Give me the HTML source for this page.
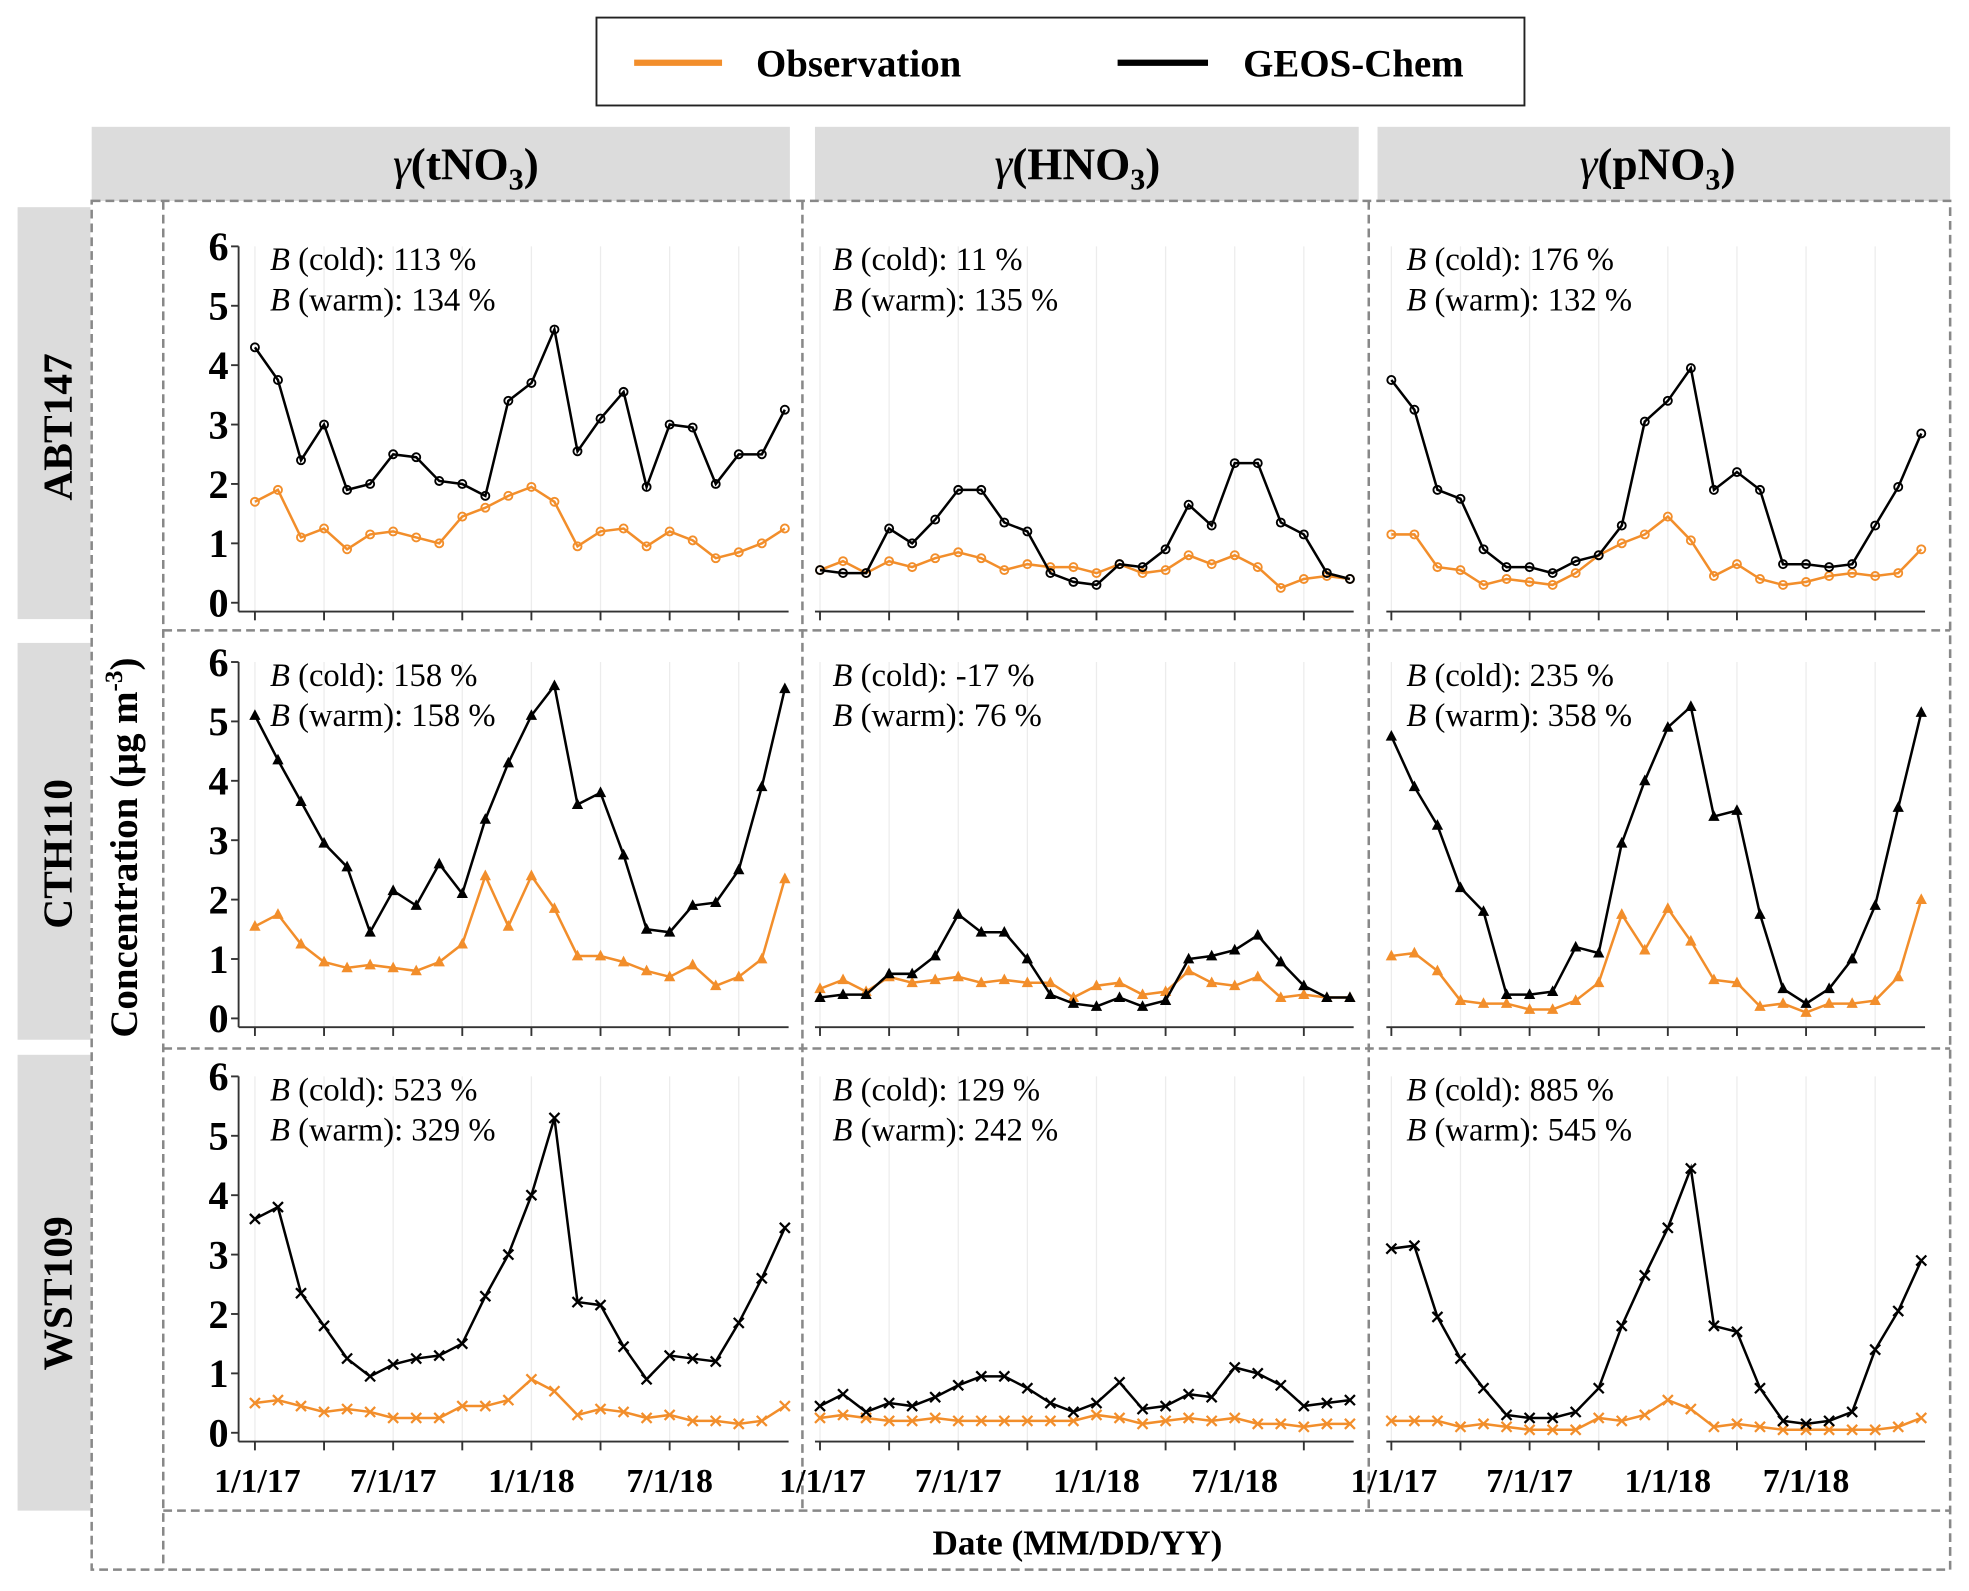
<!DOCTYPE html>
<html><head><meta charset="utf-8">
<style>
html,body{margin:0;padding:0;background:#fff;}
svg{display:block;font-family:"Liberation Serif",serif;}
</style></head>
<body>
<svg id="fig" width="1969" height="1591" viewBox="0 0 1568 1267" xmlns="http://www.w3.org/2000/svg">
<g>
<rect x="475" y="14" width="739" height="70" fill="#fff" stroke="#222" stroke-width="1.5"/>
<line x1="505" y1="50" x2="575" y2="50" stroke="#f28e2b" stroke-width="5"/>
<text x="602" y="61" font-size="31" font-weight="bold">Observation</text>
<line x1="890" y1="50" x2="962" y2="50" stroke="#000" stroke-width="5"/>
<text x="990" y="61" font-size="31" font-weight="bold">GEOS-Chem</text>
</g>
<g>
<rect x="73" y="101" width="556" height="59" fill="#dcdcdc"/>
<rect x="649" y="101" width="433" height="59" fill="#dcdcdc"/>
<rect x="1097" y="101" width="456" height="59" fill="#dcdcdc"/>
<text x="371" y="143" font-size="36" font-weight="bold" text-anchor="middle"><tspan font-style="italic" font-weight="normal">γ</tspan>(tNO<tspan font-size="24" dy="8">3</tspan><tspan dy="-8">)</tspan></text>
<text x="858" y="143" font-size="36" font-weight="bold" text-anchor="middle"><tspan font-style="italic" font-weight="normal">γ</tspan>(HNO<tspan font-size="24" dy="8">3</tspan><tspan dy="-8">)</tspan></text>
<text x="1320" y="143" font-size="36" font-weight="bold" text-anchor="middle"><tspan font-style="italic" font-weight="normal">γ</tspan>(pNO<tspan font-size="24" dy="8">3</tspan><tspan dy="-8">)</tspan></text>
</g>
<g>
<rect x="14" y="165" width="58" height="328" fill="#dcdcdc"/>
<rect x="14" y="512" width="58" height="316" fill="#dcdcdc"/>
<rect x="14" y="840" width="58" height="363" fill="#dcdcdc"/>
<text transform="translate(57,340) rotate(-90)" font-size="33" font-weight="bold" text-anchor="middle">ABT147</text>
<text transform="translate(57,680) rotate(-90)" font-size="33" font-weight="bold" text-anchor="middle">CTH110</text>
<text transform="translate(57,1030) rotate(-90)" font-size="33" font-weight="bold" text-anchor="middle">WST109</text>
</g>
<g fill="none" stroke="#888" stroke-width="2" stroke-dasharray="7,4">
<rect x="73" y="160" width="1480" height="1090"/>
<line x1="130" y1="160" x2="130" y2="1250"/>
<line x1="639" y1="160" x2="639" y2="1203"/>
<line x1="1090" y1="160" x2="1090" y2="1203"/>
<line x1="130" y1="502" x2="1553" y2="502"/>
<line x1="130" y1="835" x2="1553" y2="835"/>
<line x1="130" y1="1203" x2="1553" y2="1203"/>
</g>
<text transform="translate(109,675) rotate(-90)" font-size="31" font-weight="bold" text-anchor="middle">Concentration (μg m<tspan font-size="20" dy="-12">-3</tspan><tspan dy="12">)</tspan></text>
<text x="858" y="1238" font-size="28" font-weight="bold" text-anchor="middle">Date (MM/DD/YY)</text>
<g id="plots"></g>
</svg>
<script>
const months = ["1/1/17","2/1/17","3/1/17","4/1/17","5/1/17","6/1/17","7/1/17","8/1/17","9/1/17","10/1/17","11/1/17","12/1/17","1/1/18","2/1/18","3/1/18","4/1/18","5/1/18","6/1/18","7/1/18","8/1/18","9/1/18","10/1/18","11/1/18","12/1/18"];
const yTicks = [0,1,2,3,4,5,6];
const xTickLabels = ["1/1/17","7/1/17","1/1/18","7/1/18"];
const stations = ["ABT147","CTH110","WST109"];
const species = ["tNO3","HNO3","pNO3"];
const modelABT_t = [4.3,3.75,2.4,3.0,1.9,2.0,2.5,2.45,2.05,2.0,1.8,3.4,3.7,4.6,2.55,3.1,3.55,1.95,3.0,2.95,2.0,2.5,2.5,3.25];
const obsABT_t = [1.7,1.9,1.1,1.25,0.9,1.15,1.2,1.1,1.0,1.45,1.6,1.8,1.95,1.7,0.95,1.2,1.25,0.95,1.2,1.05,0.75,0.85,1.0,1.25];
const modelABT_h = [0.55,0.5,0.5,1.25,1.0,1.4,1.9,1.9,1.35,1.2,0.5,0.35,0.3,0.65,0.6,0.9,1.65,1.3,2.35,2.35,1.35,1.15,0.5,0.4];
const obsABT_h = [0.55,0.7,0.5,0.7,0.6,0.75,0.85,0.75,0.55,0.65,0.6,0.6,0.5,0.65,0.5,0.55,0.8,0.65,0.8,0.6,0.25,0.4,0.45,0.4];
const modelABT_p = [3.75,3.25,1.9,1.75,0.9,0.6,0.6,0.5,0.7,0.8,1.3,3.05,3.4,3.95,1.9,2.2,1.9,0.65,0.65,0.6,0.65,1.3,1.95,2.85];
const obsABT_p = [1.15,1.15,0.6,0.55,0.3,0.4,0.35,0.3,0.5,0.8,1.0,1.15,1.45,1.05,0.45,0.65,0.4,0.3,0.35,0.45,0.5,0.45,0.5,0.9];
const modelCTH_t = [5.1,4.35,3.65,2.95,2.55,1.45,2.15,1.9,2.6,2.1,3.35,4.3,5.1,5.6,3.6,3.8,2.75,1.5,1.45,1.9,1.95,2.5,3.9,5.55];
const obsCTH_t = [1.55,1.75,1.25,0.95,0.85,0.9,0.85,0.8,0.95,1.25,2.4,1.55,2.4,1.85,1.05,1.05,0.95,0.8,0.7,0.9,0.55,0.7,1.0,2.35];
const modelCTH_h = [0.35,0.4,0.4,0.75,0.75,1.05,1.75,1.45,1.45,1.0,0.4,0.25,0.2,0.35,0.2,0.3,1.0,1.05,1.15,1.4,0.95,0.55,0.35,0.35];
const obsCTH_h = [0.5,0.65,0.45,0.7,0.6,0.65,0.7,0.6,0.65,0.6,0.6,0.35,0.55,0.6,0.4,0.45,0.8,0.6,0.55,0.7,0.35,0.4,0.35,0.35];
const modelCTH_p = [4.75,3.9,3.25,2.2,1.8,0.4,0.4,0.45,1.2,1.1,2.95,4.0,4.9,5.25,3.4,3.5,1.75,0.5,0.25,0.5,1.0,1.9,3.55,5.15];
const obsCTH_p = [1.05,1.1,0.8,0.3,0.25,0.25,0.15,0.15,0.3,0.6,1.75,1.15,1.85,1.3,0.65,0.6,0.2,0.25,0.1,0.25,0.25,0.3,0.7,2.0];
const modelWST_t = [3.6,3.8,2.35,1.8,1.25,0.95,1.15,1.25,1.3,1.5,2.3,3.0,4.0,5.3,2.2,2.15,1.45,0.9,1.3,1.25,1.2,1.85,2.6,3.45];
const obsWST_t = [0.5,0.55,0.45,0.35,0.4,0.35,0.25,0.25,0.25,0.45,0.45,0.55,0.9,0.7,0.3,0.4,0.35,0.25,0.3,0.2,0.2,0.15,0.2,0.45];
const modelWST_h = [0.45,0.65,0.35,0.5,0.45,0.6,0.8,0.95,0.95,0.75,0.5,0.35,0.5,0.85,0.4,0.45,0.65,0.6,1.1,1.0,0.8,0.45,0.5,0.55];
const obsWST_h = [0.25,0.3,0.25,0.2,0.2,0.25,0.2,0.2,0.2,0.2,0.2,0.2,0.3,0.25,0.15,0.2,0.25,0.2,0.25,0.15,0.15,0.1,0.15,0.15];
const modelWST_p = [3.1,3.15,1.95,1.25,0.75,0.3,0.25,0.25,0.35,0.75,1.8,2.65,3.45,4.45,1.8,1.7,0.75,0.2,0.15,0.2,0.35,1.4,2.05,2.9];
const obsWST_p = [0.2,0.2,0.2,0.1,0.15,0.1,0.05,0.05,0.05,0.25,0.2,0.3,0.55,0.4,0.1,0.15,0.1,0.05,0.05,0.05,0.05,0.05,0.1,0.25];
const biasCold = [["113","11","176"],["158","-17","235"],["523","129","885"]];
const biasWarm = [["134","135","132"],["158","76","358"],["329","242","545"]];

const modelData = [[modelABT_t,modelABT_h,modelABT_p],[modelCTH_t,modelCTH_h,modelCTH_p],[modelWST_t,modelWST_h,modelWST_p]];
const obsData = [[obsABT_t,obsABT_h,obsABT_p],[obsCTH_t,obsCTH_h,obsCTH_p],[obsWST_t,obsWST_h,obsWST_p]];

const NS="http://www.w3.org/2000/svg";
const root=document.getElementById('plots');
const colX0=[203,653,1108], colW=422;
const rowY0=[480,811,1141], unit=47.3;
const markerType=["circle","triangle","cross"];
function mk(tag,attrs,parent){const e=document.createElementNS(NS,tag);for(const k in attrs)e.setAttribute(k,attrs[k]);parent.appendChild(e);return e;}
function xs(c,i){return colX0[c]+i*colW/(months.length-1);}
function ys(r,v){return rowY0[r]-v*unit;}

for(let r=0;r<3;r++){for(let c=0;c<3;c++){
  const g=mk('g',{},root);
  
  
  for(let i=0;i<months.length;i+=3){
    const gl=mk('line',{x1:xs(c,i),x2:xs(c,i),y1:ys(r,6),y2:rowY0[r]+7,stroke:'#ececec','stroke-width':1},g);
    
    
  }
  const ax=mk('line',{x1:colX0[c]-(c==0?13:4),x2:colX0[c]+colW+3,y1:rowY0[r]+7,y2:rowY0[r]+7,stroke:'#333','stroke-width':1.5},g);
  
  
  for(let i=0;i<months.length;i+=3){
    const t=mk('line',{x1:xs(c,i),x2:xs(c,i),y1:rowY0[r]+7,y2:rowY0[r]+14,stroke:'#333','stroke-width':1.5},g);
    
    
  }
  if(r==2){
    xTickLabels.forEach((lab,k)=>{
      const tx=mk('text',{x:xs(c,k*6)+(k==0?2:0),y:1188,'font-size':27,'font-weight':'bold','text-anchor':'middle'},g);
      tx.textContent=lab;
      
      
    });
  }
  if(c==0){
    const ya=mk('line',{x1:190,x2:190,y1:ys(r,6),y2:rowY0[r]+7,stroke:'#333','stroke-width':1.5},g);
    
    
    yTicks.forEach(v=>{
      const tl=mk('line',{x1:184,x2:190,y1:ys(r,v),y2:ys(r,v),stroke:'#333','stroke-width':1.5},g);
      
      
      const tt=mk('text',{x:182,y:ys(r,v)+11,'font-size':32,'font-weight':'bold','text-anchor':'end'},g);
      tt.textContent=v;
      
      
    });
  }
  const ax0=colX0[c]+(c==1?10:12);
  const a1=mk('text',{x:ax0,y:ys(r,6)+19,'font-size':26},g);
  a1.innerHTML='<tspan font-style="italic">B</tspan> (cold): '+biasCold[r][c]+' %';
  
  
  const a2=mk('text',{x:ax0,y:ys(r,6)+51,'font-size':26},g);
  a2.innerHTML='<tspan font-style="italic">B</tspan> (warm): '+biasWarm[r][c]+' %';
  
  
  [[obsData[r][c],'#f28e2b','observation'],[modelData[r][c],'#000','geos-chem']].forEach(([arr,col,nm])=>{
    const pts=arr.map((v,i)=>xs(c,i).toFixed(1)+','+ys(r,v).toFixed(1)).join(' ');
    const pl=mk('polyline',{points:pts,fill:'none',stroke:col,'stroke-width':2},g);
    
    
    arr.forEach((v,i)=>{
      const x=xs(c,i),y=ys(r,v);let m;
      if(markerType[r]=='circle') m=mk('circle',{cx:x,cy:y,r:3.2,fill:'none',stroke:col,'stroke-width':1.5},g);
      else if(markerType[r]=='triangle') m=mk('polygon',{points:`${x},${y-5} ${x-4.5},${y+3.5} ${x+4.5},${y+3.5}`,fill:col},g);
      else m=mk('path',{d:`M${x-4},${y-4}L${x+4},${y+4}M${x+4},${y-4}L${x-4},${y+4}`,stroke:col,'stroke-width':1.8},g);
      
      
    });
  });
}}
</script>
</body></html>
